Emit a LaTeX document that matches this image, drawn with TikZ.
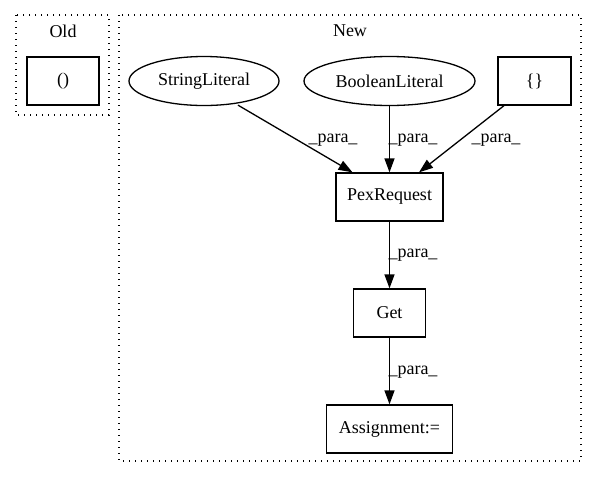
\documentclass[tikz,border=0pt]{standalone}
\usepackage{fontspec}
\setmainfont{Liberation Serif}
\usetikzlibrary{shapes.geometric,arrows.meta}
\begin{document}
\begin{tikzpicture}[x=1pt,y=-1pt,
  font=\fontsize{18}{20}\selectfont,
  cluster/.style={draw,line width=1.3pt,dash pattern=on 1.3pt off 4.7pt},
  box/.style={draw,line width=1.3pt,rectangle,inner sep=0pt,minimum height=48pt},
  oval/.style={draw,line width=1.3pt,ellipse,inner sep=0pt,minimum height=49pt},
  edge/.style={draw,line width=1.3pt,-{Triangle[length=14pt,width=10pt]}},
  lbl/.style={inner sep=0pt}]
\useasboundingbox (0,0) rectangle (597,480);
\draw[cluster] (16,15) rectangle (109,115);
\node (oldlbl) at (63,31) {Old};
\draw[cluster] (119,15) rectangle (581,461);
\node (newlbl) at (350,31) {New};

\node[box,minimum width=72pt] (old) at (63,81) {()};
\node[oval,minimum width=150pt] (str) at (204,81) {StringLiteral};
\node[oval,minimum width=171pt] (bool) at (389.5,81) {BooleanLiteral};
\node[box,minimum width=73pt] (brace) at (534.5,81) {\{\}};
\node[box,minimum width=107pt] (pex) at (389.5,197) {PexRequest};
\node[box,minimum width=72pt] (get) at (389.5,313) {Get};
\node[box,minimum width=126pt] (asg) at (389.5,429) {Assignment:=};

\draw[edge] ([xshift=34pt,yshift=1pt]str.south) -- ([xshift=-37pt]pex.north);
\draw[edge] (bool.south) -- (pex.north);
\draw[edge] ([xshift=-30.5pt]brace.south) -- ([xshift=29.5pt]pex.north);
\draw[edge] (pex.south) -- (get.north);
\draw[edge] (get.south) -- (asg.north);

\node[lbl] (l1) at (333,140) {\_para\_};
\node[lbl] (l2) at (413,140) {\_para\_};
\node[lbl] (l3) at (496,140) {\_para\_};
\node[lbl] (l4) at (413,255) {\_para\_};
\node[lbl] (l5) at (413,372) {\_para\_};
\end{tikzpicture}
\end{document}
